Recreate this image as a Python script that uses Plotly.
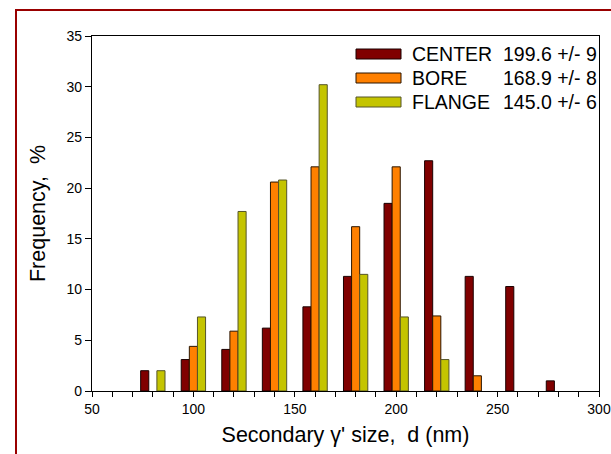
import plotly.graph_objects as go

# ---- data ----
bins = [80, 100, 120, 140, 160, 180, 200, 220, 240, 260, 280]
center = [2.0, 3.1, 4.1, 6.2, 8.3, 11.3, 18.5, 22.7, 11.3, 10.3, 1.0]
bore = [0, 4.4, 5.9, 20.6, 22.1, 16.2, 22.1, 7.4, 1.5, 0, 0]
flange = [2.0, 7.3, 17.7, 20.8, 30.2, 11.5, 7.3, 3.1, 0, 0, 0]
names = ["CENTER", "BORE", "FLANGE"]
stats = ["199.6 +/- 9", "168.9 +/- 8", "145.0 +/- 6"]
colors = ["#800000", "#FF8000", "#C4C400"]
edges = ["#1a0000", "#2a1500", "#55552a"]
x_ticks = [50, 100, 150, 200, 250, 300]
y_ticks = [0, 5, 10, 15, 20, 25, 30, 35]

FONT = "Arial, Liberation Sans, sans-serif"

def nz(vals):
    return [v if v != 0 else None for v in vals]

fig = go.Figure()
for name, vals, col, ec in zip(names, [center, bore, flange], colors, edges):
    fig.add_trace(go.Bar(x=bins, y=nz(vals), name=name,
                         marker=dict(color=col, line=dict(color=ec, width=1))))

# layout geometry (px)
W, H = 611, 454
L, R, T, B = 92, 12, 36, 63
pw, ph = W - L - R, H - T - B
def px(x):
    return (x - L) / pw
def py(y):
    return (H - B - y) / ph

shapes = [
    dict(type="rect", xref="paper", yref="paper",
         x0=px(16), x1=px(640), y0=py(480), y1=py(10),
         line=dict(color="#990000", width=2), fillcolor="rgba(0,0,0,0)", layer="below"),
]
annotations = []
rows = [54, 78, 102]
for i, (nm, st, col, ec) in enumerate(zip(names, stats, colors, edges)):
    yc = rows[i]
    shapes.append(dict(type="rect", xref="paper", yref="paper",
                       x0=px(356), x1=px(401), y0=py(yc + 5), y1=py(yc - 5),
                       fillcolor=col, line=dict(color=ec, width=1)))
    annotations.append(dict(xref="paper", yref="paper", x=px(410), y=py(yc),
                            xanchor="left", yanchor="middle", text=nm, showarrow=False,
                            font=dict(family=FONT, size=19.5, color="black")))
    annotations.append(dict(xref="paper", yref="paper", x=px(599), y=py(yc),
                            xanchor="right", yanchor="middle", text=st, showarrow=False,
                            font=dict(family=FONT, size=19.5, color="black")))

fig.update_layout(
    width=W, height=H,
    margin=dict(l=L, r=R, t=T, b=B),
    paper_bgcolor="white", plot_bgcolor="white",
    barmode="group", bargap=0.4, bargroupgap=0,
    showlegend=False,
    font=dict(family=FONT, color="black"),
    shapes=shapes, annotations=annotations,
    xaxis=dict(range=[50, 300], tickvals=x_ticks, ticks="outside", ticklen=5,
               tickwidth=1, tickcolor="black", showgrid=False, zeroline=False,
               showline=True, linecolor="black", linewidth=1.3, mirror=True,
               tickfont=dict(size=14), automargin=False,
               minor=dict(dtick=10, ticks="outside", ticklen=5, tickcolor="black", tickwidth=1),
               title=dict(text="Secondary γ' size,  d (nm)", font=dict(size=21.5), standoff=10)),
    yaxis=dict(range=[0, 35], tickvals=y_ticks, ticks="outside", ticklen=6,
               tickwidth=1, tickcolor="black", showgrid=False, zeroline=False,
               showline=True, linecolor="black", linewidth=1.3, mirror=True,
               tickfont=dict(size=14), automargin=False,
               title=dict(text="Frequency,  %", font=dict(size=21.5), standoff=14)),
)

fig.write_html("out.html")
